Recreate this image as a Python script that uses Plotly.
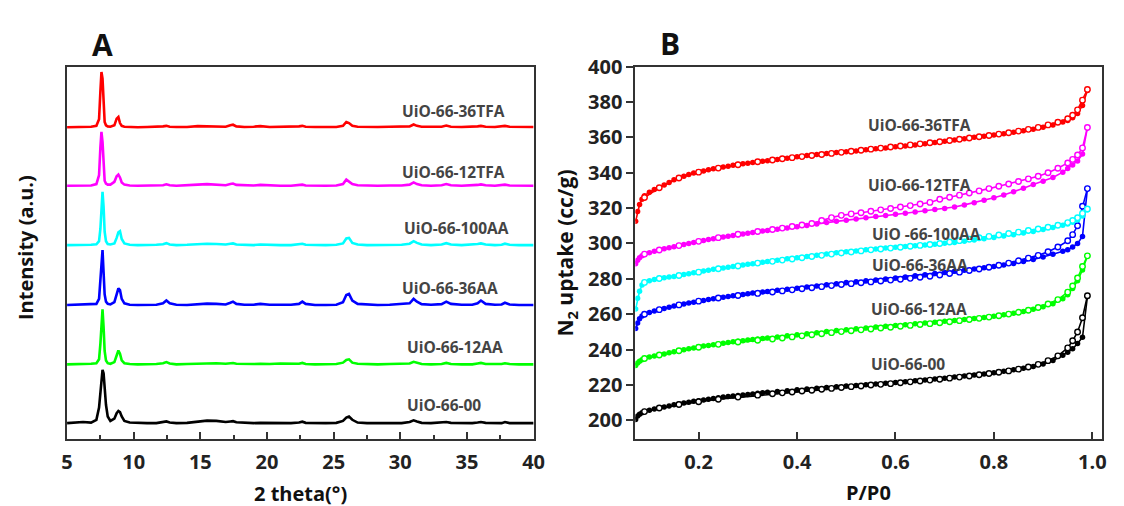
import plotly.graph_objects as go

# ---------------- Panel A: XRD patterns ----------------
two_theta = [5.0, 5.6, 6.2, 6.8, 7.2, 7.4, 7.5, 7.58, 7.66, 7.74, 7.82, 7.92, 8.05, 8.25, 8.55, 8.72,
             8.85, 8.97, 9.1, 9.3, 9.7, 10.3, 11.0, 11.7, 12.2, 12.45, 12.7, 13.2, 14.0, 14.8, 15.5,
             16.2, 16.9, 17.25, 17.45, 17.7, 18.3, 19.0, 19.5, 20.2, 21.0, 21.8, 22.4, 22.65, 22.9,
             23.6, 24.4, 25.2, 25.7, 25.95, 26.15, 26.4, 26.8, 27.5, 28.3, 29.2, 30.1, 30.7, 31.0,
             31.25, 31.6, 32.3, 33.1, 33.45, 33.8, 34.6, 35.4, 35.8, 36.05, 36.4, 37.1, 37.6, 37.85,
             38.2, 38.9, 39.5, 40.0]

xrd_36TFA = [0.5, 1, 0.5, 1.5, 3, 15, 65, 100, 88, 35, 10, 4, 2, 1.5, 4, 16,
             19, 8, 3, 1.5, 1, 0.5, 1, 1, 2, 3, 1.5, 1, 1, 2.5, 2,
             1.5, 1.5, 4, 5, 2, 1, 1.5, 2.5, 1, 1, 1, 2, 3, 1.5,
             1, 1, 1, 3, 10, 8, 3, 1.5, 1, 1, 1.5, 2, 2, 5.5,
             3, 1.5, 1, 1.5, 3.5, 1.5, 1, 1, 2, 3, 1.5, 1, 1.5, 3,
             1.5, 1, 1, 1]
xrd_12TFA = [1, 1, 1, 1.5, 4, 20, 70, 98, 80, 30, 10, 5, 3, 3, 8, 18,
             21, 16, 7, 3, 1.5, 1, 1, 1, 2, 3.5, 2, 1, 1.5, 3, 4,
             3, 2, 4, 5, 2.5, 1.5, 1.5, 2.5, 1.5, 1, 1, 2, 3, 1.5,
             1, 1, 1.5, 4, 12, 9, 4, 2, 1, 1, 1.5, 1.5, 3, 7,
             4, 2, 1, 2, 4, 2, 1, 1.5, 2.5, 3.5, 2, 1, 1.5, 3,
             1.5, 1, 1, 1]
xrd_100AA = [1, 1, 1.5, 1.5, 2.5, 8, 30, 75, 97, 70, 25, 8, 3, 2, 4, 14,
             24, 26, 12, 4, 1.5, 1, 1, 1.5, 2.5, 4.5, 2, 1, 1.5, 3, 3.5,
             3, 2, 3.5, 4, 2, 1.5, 1, 2, 1, 1, 1, 2, 3.5, 1.5,
             1, 1, 1.5, 4, 13, 14, 5, 2, 1, 1, 1, 1.5, 3.5, 8,
             5, 2, 1, 2, 4.5, 2, 1, 1.5, 3, 4, 2, 1, 1.5, 3.5,
             1.5, 1, 1, 1]
xrd_36AA = [1, 1.5, 1, 2, 3, 12, 45, 88, 100, 60, 20, 7, 3, 2, 6, 20,
            31, 28, 12, 4, 1.5, 1, 1, 1.5, 4, 9, 4, 1.5, 1, 2.5, 3.5,
            3, 2, 5, 7, 3, 1.5, 1.5, 3, 1.5, 1, 1.5, 3, 7, 3,
            1, 1, 1.5, 6, 19, 21, 9, 3, 1.5, 1, 1.5, 3, 4, 12,
            7, 2.5, 1.5, 2.5, 7, 3, 1.5, 1.5, 4, 9, 3, 1.5, 2, 5,
            2, 1, 1, 1]
xrd_12AA = [1, 1, 1.5, 2, 3, 10, 38, 82, 100, 68, 25, 8, 3, 2, 5, 17,
            26, 20, 8, 3, 1.5, 1, 1, 1.5, 3, 5, 2.5, 1, 1.5, 2.5, 3,
            3, 2, 3, 3.5, 2, 1.5, 1.5, 2, 1.5, 2.5, 1.5, 2, 3.5, 1.5,
            1, 1, 1.5, 4, 9, 10, 4, 2, 1, 1, 1.5, 1.5, 2.5, 5.5,
            3.5, 1.5, 1, 1.5, 3.5, 1.5, 1, 1, 2.5, 3.5, 1.5, 1, 1.5, 3,
            1.5, 1, 1, 1]
xrd_00 = [2, 3, 4, 3, 8, 30, 60, 85, 98, 92, 65, 35, 14, 6, 10, 20,
          24, 22, 14, 6, 3, 2, 2, 2, 4, 5, 3, 2, 2.5, 5, 6.5,
          6, 4, 5, 5.5, 3.5, 2.5, 2, 2.5, 2, 2, 2, 3, 4.5, 2.5,
          2, 2, 2.5, 6, 12, 14, 8, 3, 2, 2, 2, 2, 4, 7,
          5, 2.5, 2, 2.5, 4, 2.5, 2, 2, 3, 4, 2.5, 2, 2, 4,
          2, 2, 2, 2]

xrd_names = ["UiO-66-00", "UiO-66-12AA", "UiO-66-36AA", "UiO-66-100AA", "UiO-66-12TFA", "UiO-66-36TFA"]
xrd_series = [xrd_00, xrd_12AA, xrd_36AA, xrd_100AA, xrd_12TFA, xrd_36TFA]
xrd_offsets = [27, 134, 241, 349, 456, 562]
colors = ["#000000", "#00ff00", "#0000ff", "#00ffff", "#ff00ff", "#ff0000"]

# ---------------- Panel B: N2 isotherms ----------------
p_ads = [0.072, 0.076, 0.08, 0.085, 0.09, 0.1, 0.11, 0.12, 0.13, 0.14, 0.15, 0.16, 0.17, 0.18, 0.19,
         0.2, 0.21, 0.22, 0.23, 0.24, 0.25, 0.26, 0.27, 0.28, 0.29, 0.3, 0.31, 0.32, 0.33, 0.34,
         0.36, 0.38, 0.4, 0.42, 0.44, 0.46, 0.48, 0.5, 0.52, 0.54, 0.56, 0.58, 0.6, 0.62,
         0.64, 0.66, 0.68, 0.7, 0.72, 0.74, 0.76, 0.78, 0.8, 0.82, 0.84, 0.86, 0.88, 0.9,
         0.92, 0.94, 0.95, 0.96, 0.97, 0.98, 0.99]
p_des = [0.99, 0.98, 0.97, 0.96, 0.95, 0.93, 0.91, 0.89, 0.87, 0.85, 0.83, 0.81, 0.79, 0.77, 0.75,
         0.73, 0.71, 0.69, 0.67, 0.65, 0.63, 0.61, 0.59, 0.57, 0.55, 0.53, 0.51, 0.49, 0.47, 0.45,
         0.43, 0.41, 0.39, 0.37, 0.35, 0.32, 0.28, 0.24, 0.2, 0.16, 0.12, 0.09]

ads_36TFA = [312.5, 318, 322, 325, 327, 329, 330.5, 331.5, 333, 334.5, 336, 337, 338, 339, 339.8,
             340.5, 341, 341.6, 342.2, 342.7, 343.2, 343.7, 344.2, 344.6, 345, 345.4, 345.8, 346.2, 346.5, 346.8,
             347.5, 348.2, 349, 349.7, 350.3, 350.9, 351.4, 351.8, 352.3, 352.9, 353.5, 354, 354.6, 355.1,
             355.7, 356.3, 357, 357.7, 358.5, 359.2, 360, 360.6, 361.3, 362, 362.8, 363.7, 364.6, 365.7,
             367, 368.6, 369.5, 371, 373.5, 378, 386.5]
des_36TFA = [387, 381, 375.5, 372.5, 370.5, 368.5, 367, 365.6, 364.5, 363.5, 362.6, 361.8, 361, 360.3, 359.6,
             358.9, 358.2, 357.5, 356.9, 356.3, 355.7, 355.1, 354.5, 353.9, 353.3, 352.7, 352.1, 351.5, 350.9, 350.3,
             349.7, 349.1, 348.5, 347.9, 347.2, 346.2, 344.5, 342.6, 340.3, 337, 331.5, 326]

ads_12TFA = [288.5, 290.5, 292, 293, 293.8, 294.8, 295.6, 296.3, 297, 297.6, 298.2, 298.8, 299.4, 300, 300.6,
             301.2, 301.7, 302.2, 302.7, 303.2, 303.7, 304.1, 304.5, 305, 305.4, 305.8, 306.2, 306.6, 307, 307.3,
             308, 308.7, 309.5, 310.2, 311, 311.8, 312.5, 313.1, 313.8, 314.5, 315.2, 315.8, 316.5, 317.1,
             317.8, 318.5, 319.2, 319.8, 320.6, 321.8, 323, 324.4, 325.8, 327.4, 329.2, 331.2, 333.3, 335.2,
             337.3, 340.3, 342.3, 344.3, 346.6, 350.5, 365.5]
des_12TFA = [365.5, 354, 350, 347.5, 345.5, 342.5, 340, 338, 336.5, 335, 333.6, 332.3, 331, 329.7, 328.5,
             327.3, 326.1, 325, 323.2, 322.3, 321.4, 320.6, 319.8, 319, 318.2, 317.4, 316.7, 315.9, 314.6, 313,
             311.3, 310.4, 309.6, 308.7, 307.9, 306.8, 305.2, 303.3, 301.2, 298.8, 296.3, 294]

ads_100AA = [263, 269, 273, 276.5, 278, 279, 279.6, 280.2, 280.6, 281, 281.4, 281.9, 282.4, 282.9, 283.4,
             283.9, 284.4, 284.9, 285.4, 285.8, 286.2, 286.6, 287, 287.4, 287.8, 288.2, 288.6, 289, 289.4, 289.8,
             290.5, 291.3, 292, 292.7, 293.4, 294.1, 294.8, 295.3, 295.8, 296.4, 296.9, 297.4, 297.8, 298.3,
             298.7, 299.2, 299.6, 300.1, 300.6, 301.3, 302, 302.7, 303.4, 304.2, 305, 305.9, 306.8, 307.9,
             309, 310.3, 311, 312, 313.3, 315.5, 319]
des_100AA = [319.5, 317, 314.5, 313, 311.8, 310.3, 309.2, 308.2, 307.3, 306.4, 305.6, 304.8, 304, 303.2, 302.4,
             301.6, 300.8, 300, 299.4, 298.9, 298.4, 297.9, 297.4, 296.9, 296.4, 295.8, 295.2, 294.6, 294, 293.3,
             292.6, 291.9, 291.2, 290.6, 289.9, 288.9, 287.3, 285.7, 283.8, 281.9, 280.2, 278]

ads_36AA = [252, 255, 257.5, 259, 260, 261, 261.8, 262.5, 263.2, 263.9, 264.6, 265.2, 265.8, 266.3, 266.8,
            267.3, 267.8, 268.3, 268.8, 269.2, 269.6, 270, 270.4, 270.8, 271.2, 271.6, 272, 272.3, 272.6, 272.9,
            273.5, 274.1, 274.7, 275.4, 276, 276.7, 277.3, 277.9, 278.4, 278.9, 279.4, 279.9, 280.5, 281.1,
            281.7, 282.3, 283, 283.6, 284.3, 284.9, 285.6, 286.3, 287, 287.8, 288.7, 289.8, 291, 292.3,
            293.9, 295.6, 296.5, 298, 300, 304, 331]
des_36AA = [331, 321, 310, 305, 301.5, 298, 295.3, 293.3, 291.7, 290.2, 288.9, 287.7, 286.6, 285.6, 284.7,
            283.8, 283, 282.2, 281.5, 280.9, 280.3, 279.8, 279.3, 278.8, 278.3, 277.8, 277.3, 276.8, 276.2, 275.6,
            275, 274.4, 273.8, 273.2, 272.6, 271.8, 270.6, 269.2, 267.4, 265.3, 262.6, 260]

ads_12AA = [231, 232.5, 233.5, 234.3, 235, 235.8, 236.4, 237, 237.6, 238.2, 238.8, 239.4, 240, 240.5, 241,
            241.5, 242, 242.4, 242.8, 243.2, 243.6, 244, 244.4, 244.8, 245.1, 245.4, 245.7, 246, 246.3, 246.6,
            247.2, 247.8, 248.4, 249, 249.6, 250.2, 250.8, 251.3, 251.8, 252.3, 252.8, 253.2, 253.7, 254.1,
            254.6, 255, 255.5, 256, 256.5, 257, 257.6, 258.2, 258.9, 259.7, 260.6, 261.6, 262.8, 264.2,
            266, 268.8, 271, 274.5, 279, 285, 293]
des_12AA = [293, 287, 280.5, 276, 272.5, 268.3, 265.8, 263.8, 262.3, 261.1, 260.1, 259.2, 258.4, 257.7, 257,
            256.4, 255.8, 255.2, 254.7, 254.2, 253.7, 253.2, 252.7, 252.2, 251.7, 251.2, 250.7, 250.2, 249.6, 249,
            248.4, 247.8, 247.2, 246.6, 246, 245.3, 244.3, 243, 241.4, 239.4, 237, 235]

ads_00 = [200.5, 202.5, 203.5, 204.3, 205, 205.8, 206.4, 207, 207.6, 208.2, 208.8, 209.3, 209.8, 210.3, 210.8,
          211.2, 211.6, 212, 212.4, 212.8, 213.2, 213.5, 213.8, 214.1, 214.4, 214.7, 215, 215.3, 215.6, 215.9,
          216.4, 216.8, 217.3, 217.8, 218.2, 218.6, 219, 219.4, 219.8, 220.2, 220.6, 221, 221.5, 221.9,
          222.4, 222.9, 223.4, 223.9, 224.5, 225.1, 225.7, 226.3, 227, 227.8, 228.6, 229.5, 230.5, 231.9,
          233.9, 236.8, 238.5, 240.5, 243.5, 247, 270]
des_00 = [270.5, 258, 250, 245, 241, 236.5, 233.8, 231.7, 230.2, 229, 228, 227.2, 226.5, 225.8, 225.1,
          224.5, 223.9, 223.3, 222.8, 222.3, 221.8, 221.3, 220.8, 220.4, 220, 219.5, 219.1, 218.6, 218.1, 217.6,
          217.1, 216.6, 216.1, 215.6, 215.1, 214.3, 213.2, 212, 210.6, 209, 207, 205]

iso_names = ["UiO-66-00", "UiO-66-12AA", "UiO-66-36AA", "UiO -66-100AA", "UiO-66-12TFA", "UiO-66-36TFA"]
iso_ads = [ads_00, ads_12AA, ads_36AA, ads_100AA, ads_12TFA, ads_36TFA]
iso_des = [des_00, des_12AA, des_36AA, des_100AA, des_12TFA, des_36TFA]

# ---------------- figure ----------------
W, H = 1124, 506
FONT = "Open Sans"
AX = "#333333"

def px(x):
    return x / W

def py(y):
    return 1 - y / H

fig = go.Figure()

for name, vals, off, c in zip(xrd_names, xrd_series, xrd_offsets, colors):
    fig.add_trace(go.Scatter(
        x=two_theta, y=[v + off for v in vals], mode="lines", name=name,
        line=dict(color=c, width=2.6), xaxis="x", yaxis="y", showlegend=False))

for name, a, d, c in zip(iso_names, iso_ads, iso_des, colors):
    fig.add_trace(go.Scatter(
        x=p_ads, y=a, mode="lines+markers", name=name + " ads",
        line=dict(color=c, width=1.6),
        marker=dict(symbol="circle", size=5.5, color=c, line=dict(color=c, width=0)),
        xaxis="x2", yaxis="y2", showlegend=False))
    fig.add_trace(go.Scatter(
        x=p_des, y=d, mode="lines+markers", name=name + " des",
        line=dict(color=c, width=1.6),
        marker=dict(symbol="circle", size=5.5, color="white", line=dict(color=c, width=1.4)),
        xaxis="x2", yaxis="y2", showlegend=False))

tickfont = dict(family=FONT, size=20, color="#222222", weight="bold")
ydom = [(H - 437.3) / H, (H - 54) / H]

fig.update_layout(
    width=W, height=H,
    margin=dict(l=0, r=0, t=0, b=0),
    paper_bgcolor="white", plot_bgcolor="white",
    xaxis=dict(domain=[px(62), px(535.7)], range=[5, 40], tick0=5, dtick=5,
               ticks="inside", ticklen=7, tickwidth=1.5, tickcolor=AX, ticklabelstandoff=4,
               minor=dict(dtick=2.5, tick0=5, ticks="inside", ticklen=4, tickwidth=1.5, tickcolor=AX),
               showline=True, linewidth=2, linecolor=AX, mirror=True,
               showgrid=False, zeroline=False, tickfont=tickfont, anchor="y"),
    yaxis=dict(domain=ydom, range=[0, 672], showticklabels=False, ticks="",
               showline=True, linewidth=2, linecolor=AX, mirror=True,
               showgrid=False, zeroline=False, anchor="x"),
    xaxis2=dict(domain=[px(639), px(1113.3)], range=[0.0714, 1.0206], tick0=0.2, dtick=0.2,
                tickformat=".1f", ticks="inside", ticklen=7, tickwidth=1.5, tickcolor=AX,
                ticklabelstandoff=4,
                showline=True, linewidth=2, linecolor=AX, mirror=True,
                showgrid=False, zeroline=False, tickfont=tickfont, anchor="y2"),
    yaxis2=dict(domain=ydom, range=[189.4, 400], tick0=200, dtick=20,
                ticks="outside", ticklen=7, tickwidth=1.5, tickcolor=AX,
                showline=True, linewidth=2, linecolor=AX, mirror=True,
                showgrid=False, zeroline=False, tickfont=tickfont, anchor="x2"),
)

ann = []
def add_text(text, x, y, size, xanchor="center", angle=0, color="#111111", bold=True):
    ann.append(dict(text=text, x=px(x), y=py(y), xref="paper", yref="paper",
                    xanchor=xanchor, yanchor="middle", showarrow=False, textangle=angle,
                    font=dict(family=FONT, size=size, color=color, weight="bold" if bold else "normal")))

add_text("A", 98, 31, 30)
add_text("B", 674, 30, 30)
add_text("Intensity (a.u.)", 20, 240, 20, angle=-90)
add_text("N<sub>2</sub> uptake (cc/g)", 569, 246, 21, angle=-90)
add_text("2 theta(°)", 299, 493, 20)
add_text("P/P0", 876, 492, 20)

label_a_pos = [(405, 402), (405, 342), (400, 282), (402, 220), (400, 162), (400, 100)]
for name, (x, y) in zip(xrd_names, label_a_pos):
    add_text(name, x, y, 15.5, xanchor="left", color="#444444")

label_b_pos = [(876, 360), (876, 303), (877, 258), (877, 226), (873, 176), (873, 114)]
for name, (x, y) in zip(iso_names, label_b_pos):
    add_text(name, x, y, 15.5, xanchor="left", color="#444444")

fig.update_layout(annotations=ann)
fig.write_html("out.html", config={"displayModeBar": False},
               post_script="document.body.style.margin='0px';")
